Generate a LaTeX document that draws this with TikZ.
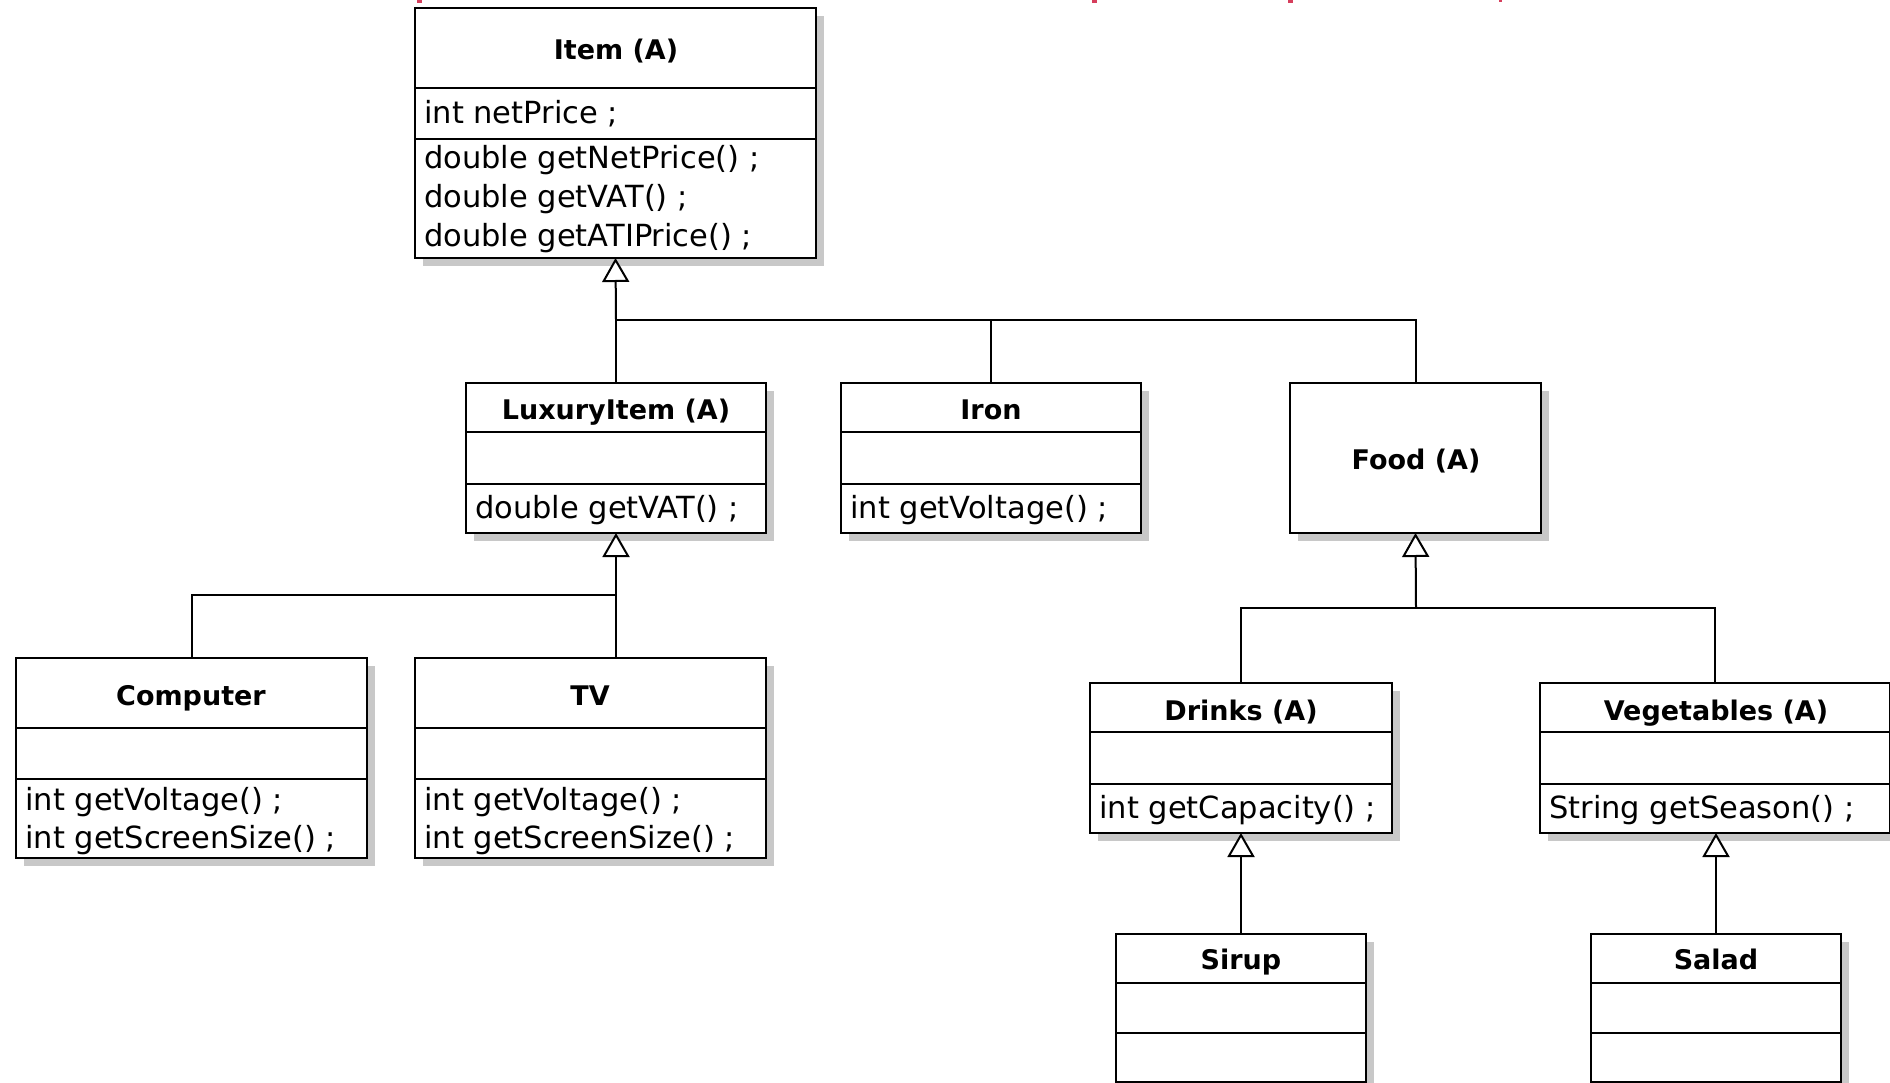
\documentclass[tikz,border=0pt]{standalone}
\usepackage{fontspec}
\setmainfont{DejaVu Sans}
\usetikzlibrary{arrows.meta,shadows}

\definecolor{shadowgray}{RGB}{200,200,200}
\definecolor{cutred}{RGB}{214,62,92}

\tikzset{
  classbox/.style={draw=black, line width=2.6pt, fill=white, anchor=north west,
    inner sep=0pt, outer sep=0pt,
    drop shadow={shadow xshift=8pt, shadow yshift=-8pt, fill=shadowgray, opacity=1}},
  divider/.style={draw=black, line width=2pt},
  title/.style={font=\bfseries\fontsize{27}{32}\selectfont, inner sep=0pt, anchor=base},
  member/.style={font=\fontsize{30.5}{39}\selectfont, inner sep=0pt, anchor=base west},
  conn/.style={draw=black, line width=2pt, line cap=rect},
  gen/.style={draw=black, line width=2pt,
    -{Triangle[fill=white, length=24pt, width=27pt, line join=miter]}},
}

% horizontal compartment line, #2 pt below the top edge of class #1
\newcommand\compline[2]{\draw[divider] ([yshift=-#2pt]#1.north west) -- ([yshift=-#2pt]#1.north east);}

\begin{document}
\begin{tikzpicture}[x=1pt, y=-1pt]
\useasboundingbox (0,0) rectangle (1890,1083);
\clip (0,0) rectangle (1890,1083);
\fill[white] (0,0) rectangle (1890,1083);

% cut-off red heading fragments along the top edge
\fill[cutred] (417,0) rectangle (422,3);
\fill[cutred] (1092,0) rectangle (1097,3);
\fill[cutred] (1288,0) rectangle (1293,3);
\fill[cutred] (1499,0) rectangle (1502,2);

% ---------- class boxes ----------
\node[classbox, minimum width=401pt, minimum height=250pt] (item)   at (415,8)    {};
\node[classbox, minimum width=300pt, minimum height=150pt] (lux)    at (466,383)  {};
\node[classbox, minimum width=300pt, minimum height=150pt] (iron)   at (841,383)  {};
\node[classbox, minimum width=251pt, minimum height=150pt] (food)   at (1290,383) {};
\node[classbox, minimum width=351pt, minimum height=200pt] (comp)   at (16,658)   {};
\node[classbox, minimum width=351pt, minimum height=200pt] (tv)     at (415,658)  {};
\node[classbox, minimum width=302pt, minimum height=150pt] (drinks) at (1090,683) {};
\node[classbox, minimum width=350pt, minimum height=150pt] (veg)    at (1540,683) {};
\node[classbox, minimum width=250pt, minimum height=148pt] (sirup)  at (1116,934) {};
\node[classbox, minimum width=250pt, minimum height=148pt] (salad)  at (1591,934) {};

% ---------- compartments ----------
\compline{item}{80}   \compline{item}{131}
\compline{lux}{49}    \compline{lux}{101}
\compline{iron}{49}   \compline{iron}{101}
\compline{comp}{70}   \compline{comp}{121}
\compline{tv}{70}     \compline{tv}{121}
\compline{drinks}{49} \compline{drinks}{101}
\compline{veg}{49}    \compline{veg}{101}
\compline{sirup}{49}  \compline{sirup}{99}
\compline{salad}{49}  \compline{salad}{99}

% ---------- class names ----------
\node[title] (itemT)   at (616,60)   {Item (A)};
\node[title] (luxT)    at (616,419)  {LuxuryItem (A)};
\node[title] (ironT)   at (991,419)  {Iron};
\node[title] (foodT)   at (1416,469) {Food (A)};
\node[title] (compT)   at (191,705)  {Computer};
\node[title] (tvT)     at (590,705)  {TV};
\node[title] (drinksT) at (1241,720) {Drinks (A)};
\node[title] (vegT)    at (1716,720) {Vegetables (A)};
\node[title] (sirupT)  at (1241,969) {Sirup};
\node[title] (saladT)  at (1716,969) {Salad};

% ---------- attributes and operations ----------
\node[member] (itemA)  at (424,124) {int netPrice ;};
\node[member] (itemM1) at (424,169) {double getNetPrice() ;};
\node[member] (itemM2) at (424,208) {double getVAT() ;};
\node[member] (itemM3) at (424,247) {double getATIPrice() ;};
\node[member] (luxM)   at (475,518) {double getVAT() ;};
\node[member] (ironM)  at (850,518) {int getVoltage() ;};
\node[member] (compM1) at (25,810)  {int getVoltage() ;};
\node[member] (compM2) at (25,848)  {int getScreenSize() ;};
\node[member] (tvM1)   at (424,810) {int getVoltage() ;};
\node[member] (tvM2)   at (424,848) {int getScreenSize() ;};
\node[member] (drinksM) at (1099,818) {int getCapacity() ;};
\node[member] (vegM)   at (1549,818) {String getSeason() ;};

% ---------- generalization trees ----------
\coordinate (j1) at (616,320);
\coordinate (j2) at (616,595);
\coordinate (j3) at (1416,608);

\draw[conn] (lux.north) -- (j1);
\draw[conn] (iron.north) |- (j1);
\draw[conn] (food.north) |- (j1);
\draw[gen]  (j1) -- (item.south);

\draw[conn] (comp.north) |- (j2);
\draw[conn] (j2 |- tv.north) -- (j2);
\draw[gen]  (j2) -- (lux.south);

\draw[conn] (drinks.north) |- (j3);
\draw[conn] (veg.north) |- (j3);
\draw[gen]  (j3) -- (food.south);

\draw[gen] (sirup.north) -- (drinks.south);
\draw[gen] (salad.north) -- (salad.north |- veg.south);
\end{tikzpicture}
\end{document}
